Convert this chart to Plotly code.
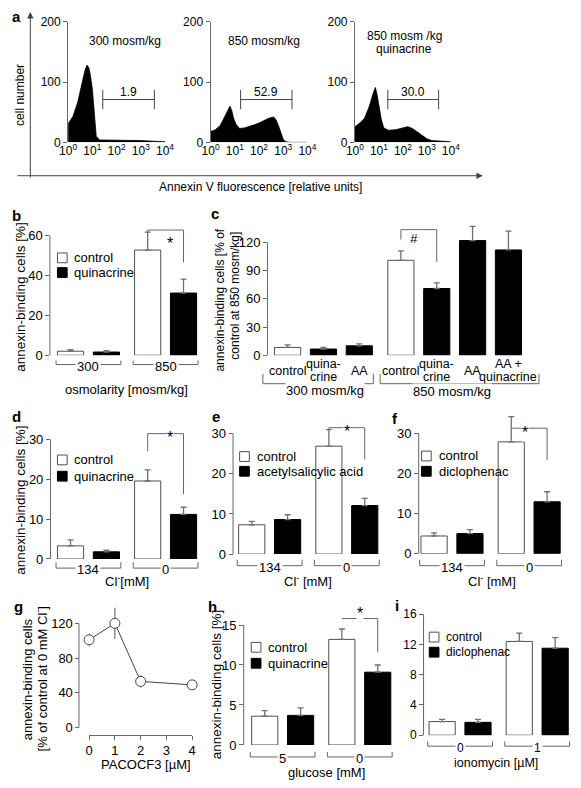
import plotly.graph_objects as go

W, H = 581, 788
FONT = "Liberation Sans, Arial, Helvetica, sans-serif"
AXC = "#666666"
EDGE = "#505050"
ERRC = "#707070"

# ---------------- data ----------------
# panel a: flow-cytometry histograms (x = log10 fluorescence, y = cell number)
hist_300_x = [0, 0.1, 0.2, 0.3, 0.4, 0.5, 0.6, 0.7, 0.78, 0.85, 0.9, 1.0, 1.05, 1.1, 1.16, 1.3, 1.6, 2.0, 2.5, 3.0, 3.5, 4.0]
hist_300_y = [31, 37, 43, 55, 67, 85, 105, 120, 128, 124, 116, 89, 65, 40, 10, 4, 4, 3.5, 3, 3, 2, 1]
hist_850_x = [0, 0.2, 0.4, 0.55, 0.7, 0.8, 0.88, 0.95, 1.05, 1.2, 1.4, 1.6, 1.8, 2.0, 2.2, 2.4, 2.6, 2.7, 2.8, 2.9, 3.0, 3.1, 3.3, 4.0]
hist_850_y = [18, 21, 28, 40, 52, 60, 52, 40, 30, 23, 24, 26, 29, 32, 36, 40, 42, 38, 28, 15, 5, 1, 0, 0]
hist_850q_x = [0, 0.2, 0.4, 0.6, 0.75, 0.85, 0.92, 1.0, 1.1, 1.2, 1.4, 1.7, 2.0, 2.2, 2.4, 2.6, 2.8, 3.0, 3.2, 3.5, 4.0]
hist_850q_y = [26, 32, 40, 60, 80, 91, 80, 60, 38, 24, 20, 21, 24, 26, 23, 17, 11, 6, 3, 2, 1]
a_titles = ["300 mosm/kg", "850 mosm/kg", "850 mosm /kg<br>quinacrine"]
gate_lo = [1.43, 1.24, 1.37]
gate_hi = [3.56, 3.36, 3.49]
gate_pct = ["1.9", "52.9", "30.0"]
a_xtick_exp = [0, 1, 2, 3, 4]

# panel b
b_groups = ["300", "850"]
b_control = [2.0, 52.6]
b_control_err = [0.8, 9.0]
b_quin = [1.6, 31.1]
b_quin_err = [0.7, 7.0]

# panel c
c_labels = ["control", "quina-<br>crine", "AA", "control", "quina-<br>crine", "AA", "AA +<br>quinacrine"]
c_values = [8.3, 6.6, 10.0, 101, 71, 122, 112]
c_err = [2.7, 1.7, 2.0, 10, 6, 15, 20]
c_is_control = [True, False, False, True, False, False, False]
c_groups = ["300 mosm/kg", "850 mosm/kg"]
c_group_size = [3, 4]

# panel d
d_groups = ["134", "0"]
d_control = [3.3, 19.6]
d_control_err = [1.5, 2.8]
d_quin = [1.8, 11.2]
d_quin_err = [0.4, 1.8]

# panel e
e_groups = ["134", "0"]
e_control = [7.3, 26.9]
e_control_err = [0.85, 4.1]
e_asa = [8.6, 12.1]
e_asa_err = [1.2, 1.8]

# panel f
f_groups = ["134", "0"]
f_control = [4.4, 27.8]
f_control_err = [0.8, 6.3]
f_dicl = [5.0, 12.9]
f_dicl_err = [1.0, 2.5]

# panel g
g_x = [0, 1, 2, 4]
g_y = [101, 120, 53, 49]
g_err = [8, 18, 7, 4]

# panel h
h_groups = ["5", "0"]
h_control = [3.6, 13.2]
h_control_err = [0.7, 1.3]
h_quin = [3.7, 9.1]
h_quin_err = [0.95, 0.9]

# panel i
i_groups = ["0", "1"]
i_control = [1.8, 12.4]
i_control_err = [0.3, 1.1]
i_dicl = [1.7, 11.5]
i_dicl_err = [0.4, 1.4]

# ---------------- helpers ----------------
def PX(x):
    return x / W


def PY(y):
    return 1 - y / H


EXT = 1.3   # head-room above the drawn axis so that error bars are not clipped

fig = go.Figure()
layout = dict(
    width=W, height=H, margin=dict(l=0, r=0, t=0, b=0),
    paper_bgcolor="white", plot_bgcolor="white", showlegend=False,
    barmode="group", bargap=0.07, bargroupgap=0.27,
    font=dict(family=FONT, size=13, color="black"),
)
shapes = []
annotations = []


def text(x, y, s, size=13, xanchor="center", yanchor="middle", **kw):
    annotations.append(dict(
        x=PX(x), y=PY(y), xref="paper", yref="paper", text=s, showarrow=False,
        font=dict(size=size, family=FONT, color="black"),
        xanchor=xanchor, yanchor=yanchor, **kw))


def polyline(points, color=AXC, width=1):
    path = "M" + "L".join(f"{PX(x):.5f},{PY(y):.5f}" for x, y in points)
    shapes.append(dict(type="path", xref="paper", yref="paper", path=path,
                       line=dict(color=color, width=width)))


def rect(x0, y0, x1, y1, fill, line):
    shapes.append(dict(type="rect", xref="paper", yref="paper",
                       x0=PX(x0), x1=PX(x1), y0=PY(y0), y1=PY(y1),
                       fillcolor=fill, line=dict(color=line, width=1)))


def axname(kind, n):
    return f"{kind}axis" if n == 1 else f"{kind}axis{n}"


def ref(kind, n):
    return kind if n == 1 else f"{kind}{n}"


def yaxis_style(ticks, size=13):
    return dict(showline=True, linecolor=AXC, linewidth=1, ticks="outside",
                ticklen=4, tickcolor=AXC, tickwidth=1, tickvals=ticks,
                showgrid=False, zeroline=False, tickfont=dict(size=size, family=FONT),
                fixedrange=True)


def extended_yaxis(n, xpx, ytop, ybot, ymax, ticks, size=13, **kw):
    """y axis whose range runs past ymax (so nothing is clipped); the visible
    axis line is drawn only from 0 to ymax."""
    ya = yaxis_style(ticks, size)
    top = ybot - (ybot - ytop) * EXT
    ya.update(domain=[PY(ybot), PY(top)], range=[0, ymax * EXT], showline=False, **kw)
    layout[axname("y", n)] = ya
    polyline([(xpx - 0.5, ybot), (xpx - 0.5, ytop)])


# ---------------- panel a ----------------
a_xdom = [(61, 161), (208, 308), (357, 456)]
a_hist = [(hist_300_x, hist_300_y), (hist_850_x, hist_850_y), (hist_850q_x, hist_850q_y)]
a_title_x = [120, 263, 408]
for k in range(3):
    n = k + 1
    hx, hy = a_hist[k]
    fig.add_trace(go.Scatter(x=hx, y=hy, mode="lines", fill="tozeroy",
                             fillcolor="black", line=dict(color="black", width=0.8),
                             xaxis=ref("x", n), yaxis=ref("y", n), hoverinfo="skip"))
    layout[axname("x", n)] = dict(
        domain=[PX(a_xdom[k][0]), PX(a_xdom[k][1])], range=[0, 4], anchor=ref("y", n),
        showline=False, ticks="", showgrid=False, zeroline=False,
        tickvals=a_xtick_exp, ticktext=[f"10<sup>{e}</sup>" for e in a_xtick_exp],
        tickfont=dict(size=12, family=FONT))
    ya = yaxis_style([0, 100, 200], 12)
    ya.update(domain=[PY(138), PY(15)], range=[0, 200], anchor=ref("x", n))
    layout[axname("y", n)] = ya
    xr, yr = ref("x", n), ref("y", n)
    for x0, x1, y0, y1 in [(gate_lo[k], gate_hi[k], 71, 71),
                           (gate_lo[k], gate_lo[k], 55, 87),
                           (gate_hi[k], gate_hi[k], 55, 87)]:
        shapes.append(dict(type="line", xref=xr, yref=yr, x0=x0, x1=x1, y0=y0, y1=y1,
                           line=dict(color="#444", width=1)))
    annotations.append(dict(x=(gate_lo[k] + gate_hi[k]) / 2, y=84, xref=xr, yref=yr,
                            text=gate_pct[k], showarrow=False, yanchor="middle",
                            font=dict(size=12, family=FONT)))
    lines = a_titles[k].split("<br>")
    for j, ln in enumerate(lines):
        yy = 35 if len(lines) == 1 else 30 + 12.5 * j
        text(a_title_x[k], yy, ln, 12)

text(7.5, 10, "<b>a</b>", 15)
text(12, 90, "cell number", 12, textangle=-90)
text(260, 183, "Annexin V fluorescence [relative units]", 12)
annotations.append(dict(x=PX(22), y=PY(5), xref="paper", yref="paper", ax=0, ay=167,
                        text="", showarrow=True, arrowhead=2, arrowsize=1.3,
                        arrowwidth=1, arrowcolor="#444"))
annotations.append(dict(x=PX(489), y=PY(172), xref="paper", yref="paper", ax=-467, ay=0,
                        text="", showarrow=True, arrowhead=2, arrowsize=1.3,
                        arrowwidth=1, arrowcolor="#444"))

# ---------------- grouped bar panels ----------------
U = 79.6          # px per category
SLOT = (1 - 0.07) / 2


def bar_panel(n, spec, groups, ctrl, ctrl_err, trt, trt_err):
    xr, yr = ref("x", n), ref("y", n)
    for vals, errs, fill, edge in [(ctrl, ctrl_err, "white", EDGE), (trt, trt_err, "black", "black")]:
        fig.add_trace(go.Bar(
            x=groups, y=vals, xaxis=xr, yaxis=yr, cliponaxis=False,
            marker=dict(color=fill, line=dict(color=edge, width=1)),
            error_y=dict(type="data", array=errs, arrayminus=[0] * len(errs),
                         symmetric=False, color=ERRC, thickness=1.3, width=3),
            hoverinfo="skip"))
    c0 = spec["c0"]
    layout[axname("x", n)] = dict(
        domain=[PX(spec["xl"]), PX(spec["xr"])], type="category",
        range=[(spec["xl"] - c0) / U, (spec["xr"] - c0) / U],
        anchor=yr, visible=False, fixedrange=True)
    extended_yaxis(n, spec["xl"], spec["yt"], spec["yb"], spec["ymax"], spec["ticks"],
                   spec.get("fs", 13), anchor=xr)
    for k, g in enumerate(groups):
        x0, x1 = c0 + (k - 0.42) * U, c0 + (k + 0.42) * U
        yl = spec["bry"]
        polyline([(x0, yl - spec["brh"]), (x0, yl), (x1, yl), (x1, yl - spec["brh"])])
        text((x0 + x1) / 2, yl + 1.5, g, spec.get("fs", 13), bgcolor="white", borderpad=1)


def bx(spec, v):
    return spec["c0"] + v * U


def by(spec, val):
    return spec["yb"] - val / spec["ymax"] * (spec["yb"] - spec["yt"])


def sig(spec, k, top, lb, rb, sym="*"):
    xl, xr = bx(spec, k - SLOT / 2), bx(spec, k + SLOT / 2)
    polyline([(xl, by(spec, lb)), (xl, by(spec, top)), (xr, by(spec, top)), (xr, by(spec, rb))])
    annotations.append(dict(x=PX((xl + xr) / 2), y=PY(by(spec, top)), xref="paper", yref="paper",
                            text=sym, showarrow=False, bgcolor="white", borderpad=0,
                            yshift=-4, font=dict(size=16, family=FONT, color="black")))


def legend(x, y1, y2, labels, size=13):
    rect(x, y1 - 5, x + 10, y1 + 5, "white", EDGE)
    rect(x, y2 - 5, x + 10, y2 + 5, "black", "black")
    text(x + 15.5, y1, labels[0], size, xanchor="left")
    text(x + 15.5, y2, labels[1], size, xanchor="left")


spec_b = dict(xl=42.7, xr=196, yt=232.7, yb=355, ymax=60, c0=82, ticks=[0, 20, 40, 60], bry=364.5, brh=4)
spec_d = dict(xl=43.3, xr=196, yt=441, yb=562.7, ymax=30, c0=82, ticks=[0, 10, 20, 30], bry=572, brh=6)
spec_e = dict(xl=231.7, xr=384, yt=435, yb=557.7, ymax=30, c0=269, ticks=[0, 10, 20, 30], bry=569.5, brh=6)
spec_f = dict(xl=423.3, xr=572, yt=434.3, yb=557.3, ymax=30, c0=457.2, ticks=[0, 10, 20, 30], bry=569.5, brh=6)
spec_h = dict(xl=242.7, xr=396, yt=630, yb=752.3, ymax=15, c0=282.4, ticks=[0, 5, 10, 15], bry=764.5, brh=5)
spec_i = dict(xl=428.3, xr=581, yt=619, yb=742.3, ymax=16, c0=465.5, ticks=[0, 4, 8, 12, 16], bry=753.5, brh=5, fs=12)

bar_panel(4, spec_b, b_groups, b_control, b_control_err, b_quin, b_quin_err)
bar_panel(6, spec_d, d_groups, d_control, d_control_err, d_quin, d_quin_err)
bar_panel(7, spec_e, e_groups, e_control, e_control_err, e_asa, e_asa_err)
bar_panel(8, spec_f, f_groups, f_control, f_control_err, f_dicl, f_dicl_err)
bar_panel(10, spec_h, h_groups, h_control, h_control_err, h_quin, h_quin_err)
bar_panel(11, spec_i, i_groups, i_control, i_control_err, i_dicl, i_dicl_err)

sig(spec_b, 1, 62.6, 61.7, 46.5)
sig(spec_d, 1, 31.5, 27.1, 16.3)
sig(spec_e, 1, 31.5, 31.0, 23.6)
sig(spec_f, 1, 31.2, 31.2, 23.3)
sig(spec_h, 1, 15.8, 15.8, 11.6)

legend(50, 255.7, 270.7, ["control", "quinacrine"])
legend(50, 461.7, 478.3, ["control", "quinacrine"])
legend(238, 458.3, 473.3, ["control", "acetylsalicylic acid"])
legend(425.7, 457.7, 473.3, ["control", "diclophenac"])
legend(250, 652.7, 669, ["control", "quinacrine"])
legend(433.7, 642.3, 657.7, ["control", "diclophenac"], 12)

text(7.5, 213, "<b>b</b>", 15)
text(11.7, 296, "annexin-binding cells [%]", 13.5, textangle=-90)
text(121.7, 390, "osmolarity [mosm/kg]", 13)
text(7.5, 417, "<b>d</b>", 15)
text(11.7, 503, "annexin-binding cells [%]", 13.5, textangle=-90)
text(122, 585.5, "Cl<sup>-</sup>[mM]", 13)
text(214, 417.5, "<b>e</b>", 15)
text(309, 585.5, "Cl<sup>-</sup> [mM]", 13)
text(398, 419, "<b>f</b>", 15)
text(498, 585.5, "Cl<sup>-</sup> [mM]", 13)
text(209.5, 611, "<b>h</b>", 15)
text(215, 691, "annexin-binding cells [%]", 13.5, textangle=-90)
text(327.5, 780, "glucose [mM]", 13)
text(400, 610.5, "<b>i</b>", 15)
text(502.5, 770.7, "ionomycin [µM]", 12.5)

# ---------------- panel c ----------------
CU = 37.0
C0 = 287.5
c_pos = [i + 0.16 * (i >= c_group_size[0]) for i in range(len(c_values))]
fig.add_trace(go.Bar(
    x=c_pos, y=c_values, width=0.73, xaxis="x5", yaxis="y5", cliponaxis=False,
    marker=dict(color=["white" if c else "black" for c in c_is_control],
                line=dict(color=[EDGE if c else "black" for c in c_is_control], width=1)),
    error_y=dict(type="data", array=c_err, arrayminus=[0] * len(c_err), symmetric=False,
                 color=ERRC, thickness=1.3, width=3),
    hoverinfo="skip"))
layout["xaxis5"] = dict(domain=[PX(267.3), PX(532)], range=[(267.3 - C0) / CU, (532 - C0) / CU],
                        anchor="y5", visible=False, fixedrange=True)
extended_yaxis(5, 267.3, 240, 355, 120, [0, 30, 60, 90, 120], anchor="x5")
for p, lab in zip(c_pos, c_labels):
    lines = lab.split("<br>")
    for j, ln in enumerate(lines):
        yy = 371.5 if len(lines) == 1 else 364 + 13 * j
        text(C0 + p * CU, yy, ln, 12.5)
polyline([(262, 374), (262, 384), (376, 384), (376, 374)])
text(326, 390.5, c_groups[0], 13, bgcolor="white", borderpad=0)
polyline([(383, 374), (383, 384), (547, 384), (547, 374)])
text(457, 392, c_groups[1], 13, bgcolor="white", borderpad=0)
cy = lambda v: 355 - v / 120 * 115
xl_c, xr_c = C0 + c_pos[3] * CU, C0 + c_pos[4] * CU
polyline([(xl_c, cy(123)), (xl_c, cy(133.6)), (xr_c, cy(133.6)), (xr_c, cy(99))])
annotations.append(dict(x=PX((xl_c + xr_c) / 2), y=PY(cy(133.6)), xref="paper", yref="paper",
                        text="<i>#</i>", showarrow=False, bgcolor="white", borderpad=0,
                        font=dict(size=13, family=FONT)))
text(213, 211, "<b>c</b>", 15)
text(218, 299, "annexin-binding cells [% of", 12, textangle=-90)
text(233, 294.5, "control at 850 mosm/kg]", 12, textangle=-90)

# ---------------- panel g ----------------
fig.add_trace(go.Scatter(
    x=g_x, y=g_y, xaxis="x9", yaxis="y9", mode="lines+markers", cliponaxis=False,
    line=dict(color="#444", width=1),
    marker=dict(symbol="circle", size=10, color="white", line=dict(color="#444", width=1)),
    error_y=dict(type="data", array=g_err, color="#555", thickness=1, width=0),
    hoverinfo="skip"))
layout["xaxis9"] = dict(domain=[PX(82.7), PX(189)], range=[0, 4], anchor="free",
                        position=PY(741.7), showline=True, linecolor=AXC, ticks="outside",
                        ticklen=4, tickcolor=AXC, tickvals=[0, 1, 2, 3, 4], showgrid=False,
                        zeroline=False, tickfont=dict(size=13, family=FONT), fixedrange=True)
extended_yaxis(9, 72.7, 628.3, 734.3, 120, [0, 40, 80, 120], anchor="free", position=PX(72.7))
text(10, 611.5, "<b>g</b>", 15)
text(20, 685, "annexin-binding cells", 13, textangle=-90)
text(33.5, 685, "[% of control at 0 mM Cl<sup>-</sup>]", 13, textangle=-90)
text(141, 771.7, "PACOCF3 [µM]", 13)

layout["shapes"] = shapes
layout["annotations"] = annotations
fig.update_layout(**layout)
fig.write_html("out.html", config={"displayModeBar": False, "staticPlot": True},
               post_script="document.body.style.margin='0px';document.body.style.overflow='hidden';")
